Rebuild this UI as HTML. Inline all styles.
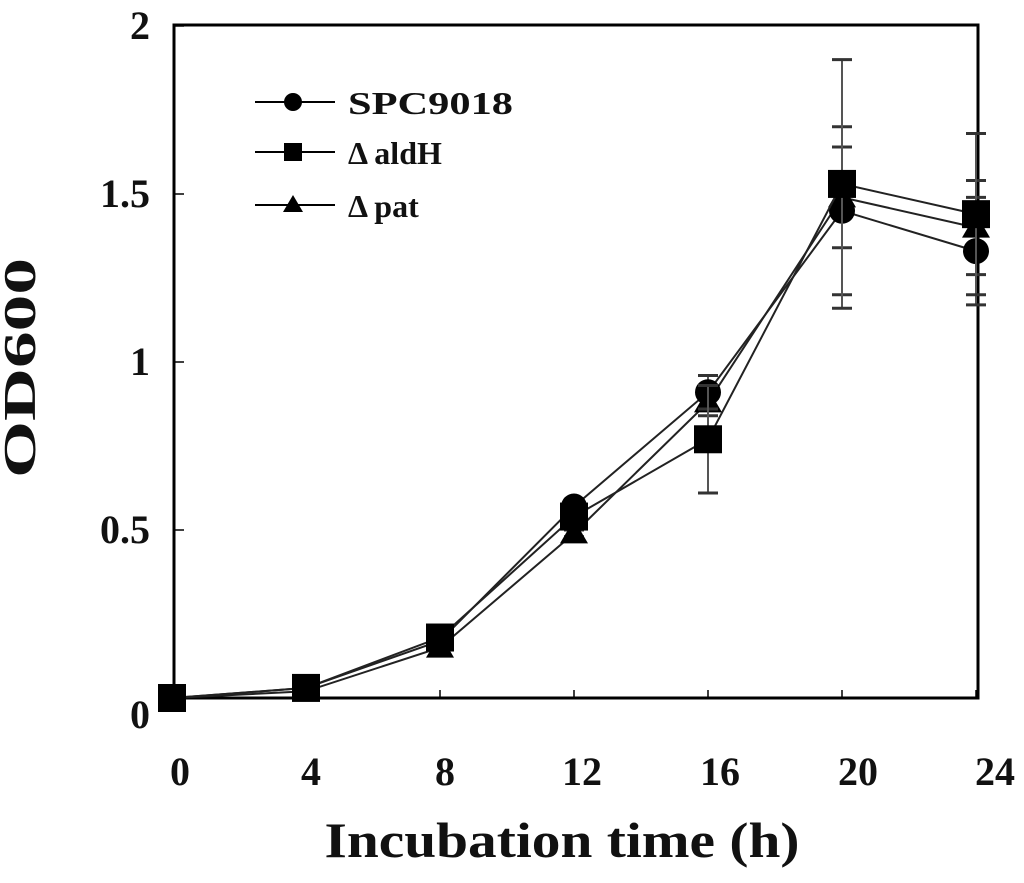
<!DOCTYPE html>
<html><head><meta charset="utf-8"><style>
body{margin:0;background:#fff;}
svg text{font-family:"Liberation Serif",serif;font-weight:bold;fill:#111;}
</style></head><body>
<svg width="1024" height="878" id="chart">
<rect x="174" y="25" width="804" height="673" fill="none" stroke="#000" stroke-width="3"/>
<g id="ticks"></g>
<g id="series"></g>
<text x="35" y="368" font-size="46" text-anchor="middle" textLength="220" lengthAdjust="spacingAndGlyphs" transform="rotate(-90 35 368)">OD600</text>
<text x="562" y="857" font-size="50" text-anchor="middle" textLength="475" lengthAdjust="spacingAndGlyphs">Incubation time (h)</text>
<g>
<g><line x1="255" y1="102" x2="335" y2="102" stroke="#000" stroke-width="2"/><circle cx="293" cy="102" r="9"/><text x="348" y="114" font-size="32" textLength="165" lengthAdjust="spacingAndGlyphs">SPC9018</text></g>
<g><line x1="255" y1="152" x2="335" y2="152" stroke="#000" stroke-width="2"/><rect x="284" y="143" width="18" height="18"/><text x="348" y="164" font-size="32">Δ aldH</text></g>
<g><line x1="255" y1="205" x2="335" y2="205" stroke="#000" stroke-width="2"/><polygon points="293,195 303,212 283,212"/><text x="348" y="217" font-size="32">Δ pat</text></g>
</g>
</svg>
<script>
const times=[0,4,8,12,16,20,24];
const xTickLabels=["0","4","8","12","16","20","24"];
const yTickValues=[0,0.5,1,1.5,2];
const yTickLabels=["0","0.5","1","1.5","2"];
const spc=[0.0,0.03,0.17,0.57,0.91,1.45,1.33];
const spcErr=[0,0,0,0.02,0.05,0.25,0.16];
const aldh=[0.0,0.03,0.18,0.54,0.77,1.53,1.44];
const aldhErr=[0,0,0,0.02,0.16,0.37,0.24];
const pat=[0.0,0.02,0.15,0.49,0.88,1.49,1.40];
const patErr=[0,0,0,0.01,0.04,0.15,0.14];
const NS="http://www.w3.org/2000/svg";
const X=t=>172+t*33.5;
const Y=v=>698-v*336;
function mk(tag,attrs,parent){const e=document.createElementNS(NS,tag);for(const k in attrs)e.setAttribute(k,attrs[k]);parent.appendChild(e);return e;}
const tg=document.getElementById('ticks');
const xLabelPos=[180,311,445,582,720,858,995];
times.forEach((t,i)=>{
 const l=mk('line',{x1:X(t),x2:X(t),y1:698,y2:690,stroke:'#000','stroke-width':1.5},tg);
 
 
 const tx=mk('text',{x:xLabelPos[i],y:785,'font-size':40,'text-anchor':'middle'},tg);
 tx.textContent=xTickLabels[i];
 
 
});
yTickValues.forEach((v,i)=>{
 const l=mk('line',{x1:174,x2:184,y1:Y(v),y2:Y(v),stroke:'#000','stroke-width':1.5},tg);
 
 
 const tx=mk('text',{x:150,y:Y(v)+(v===0?30:13),'font-size':40,'text-anchor':'end'},tg);
 tx.textContent=yTickLabels[i];
 
 
});
const sg=document.getElementById('series');
function draw(vals,errs,shape,name){
 const g=mk('g',{},sg);
 
 
 vals.forEach((v,i)=>{if(errs[i]>0){const x=X(times[i]);
  mk('line',{x1:x,x2:x,y1:Y(v+errs[i]),y2:Y(v-errs[i]),stroke:'#555','stroke-width':2},g);
  mk('line',{x1:x-10,x2:x+10,y1:Y(v+errs[i]),y2:Y(v+errs[i]),stroke:'#333','stroke-width':3},g);
  mk('line',{x1:x-10,x2:x+10,y1:Y(v-errs[i]),y2:Y(v-errs[i]),stroke:'#333','stroke-width':3},g);}});
 const pts=vals.map((v,i)=>X(times[i])+','+Y(v)).join(' ');
 const pl=mk('polyline',{points:pts,fill:'none',stroke:'#222','stroke-width':2},g);
 
 
 vals.forEach((v,i)=>{const x=X(times[i]),y=Y(v);let m;
  if(shape==='c')m=mk('circle',{cx:x,cy:y,r:13},g);
  else if(shape==='s')m=mk('rect',{x:x-14,y:y-14,width:28,height:28},g);
  else m=mk('polygon',{points:`${x},${y-14} ${x+14},${y+10} ${x-14},${y+10}`},g);
  
  });
}
draw(pat,patErr,'t','pat');
draw(spc,spcErr,'c','spc9018');
draw(aldh,aldhErr,'s','aldh');
</script>
</body></html>
